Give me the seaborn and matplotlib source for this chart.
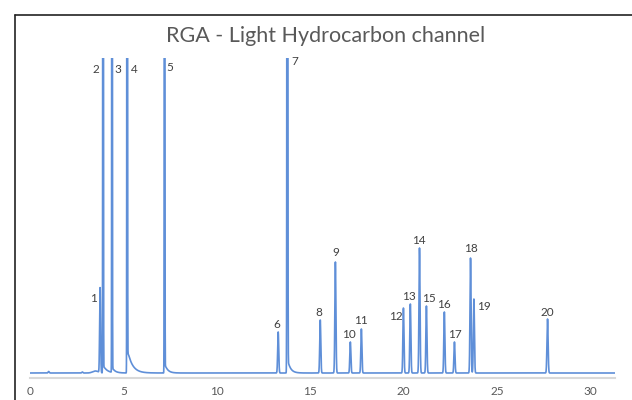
import numpy as np
import pandas as pd
import matplotlib
matplotlib.use("Agg")
import matplotlib.pyplot as plt
from matplotlib.lines import Line2D
import seaborn as sns

# peak table (retention time in min, height in signal units)
peak_labels = [str(i) for i in range(1, 21)]
peak_times = [3.75, 3.91, 4.39, 5.20, 7.20, 13.28, 13.77, 15.53, 16.34, 17.14,
              17.73, 19.98, 20.35, 20.84, 21.21, 22.17, 22.71, 23.57, 23.75, 27.69]
peak_heights = [85, 2000, 1500, 2500, 1800, 41, 2200, 53, 111, 31,
                44, 65, 69, 125, 67, 61, 31, 115, 74, 54]
peak_widths = [0.025, 0.012, 0.012, 0.012, 0.012, 0.028, 0.016, 0.028, 0.028, 0.028,
               0.028, 0.028, 0.028, 0.028, 0.028, 0.028, 0.028, 0.028, 0.028, 0.03]
tail_heights = [0, 8, 5, 25, 10, 0, 15, 0, 0, 0, 0, 0, 0, 0, 0, 0, 0, 0, 0, 0]
tail_lengths = [0.1, 0.2, 0.15, 0.25, 0.15, 0.1, 0.15, 0.1, 0.1, 0.1,
                0.1, 0.1, 0.1, 0.1, 0.1, 0.1, 0.1, 0.1, 0.1, 0.1]

# small baseline disturbances
bump_times = [1.0, 2.8, 3.5]
bump_heights = [1.5, 1.0, 2.0]
bump_widths = [0.03, 0.03, 0.15]

# label offsets from the apex (pixels)
label_dx = [-7, -7, 6, 7, 5, -1, 7, -1, 0, -1, 0, -8, -1, -1, 3, 0, 0, 0, 10, 0]
label_dy = [-10, -12, -12, -12, -10, 7, -4, 8, 9, 8, 8, -9, 7, 7, 8, 8, 7, 9, -8, 6]

y_top = 315
t = np.linspace(0, 31.3, 12000)
signal = np.zeros_like(t)
for tr, h, w, a, tau in zip(peak_times, peak_heights, peak_widths, tail_heights, tail_lengths):
    signal += h * np.exp(-0.5 * ((t - tr) / w) ** 2)
    d = np.clip(t - tr, 0, None)
    signal += np.where(t > tr, a * np.exp(-d / tau) * (1 - np.exp(-d / 0.02)), 0)
for tb, hb, wb in zip(bump_times, bump_heights, bump_widths):
    signal += hb * np.exp(-0.5 * ((t - tb) / wb) ** 2)

df = pd.DataFrame({"time": t, "signal": signal})

sns.set_style("white")
plt.rcParams['font.family'] = ['Lato', 'DejaVu Sans']

fig = plt.figure(figsize=(6.32, 4.0), dpi=100)
ax = fig.add_axes([30 / 632, 22 / 400, 585 / 632, 320 / 400])
sns.lineplot(data=df, x="time", y="signal", ax=ax, color="#5f8fd8",
             linewidth=1.2, estimator=None)

ax.set_xlim(0, 31.3)
ax.set_ylim(-5, y_top)
ax.set_xticks([0, 5, 10, 15, 20, 25, 30])
ax.set_yticks([])
ax.set_xlabel("")
ax.set_ylabel("")
for side in ["left", "right", "top"]:
    ax.spines[side].set_visible(False)
ax.spines["bottom"].set_color("#d9d9d9")
ax.spines["bottom"].set_linewidth(1.5)
ax.tick_params(axis="x", length=0, pad=6, labelsize=8.5, labelcolor="#595959")

for lab, tr, h, dx, dy in zip(peak_labels, peak_times, peak_heights, label_dx, label_dy):
    ax.annotate(lab, xy=(tr, min(h, y_top)), xytext=(dx, dy), textcoords="offset pixels",
                ha="center", va="center", fontsize=8.5, color="#404040",
                annotation_clip=False)

fig.text(326 / 632, 1 - 36 / 400, "RGA - Light Hydrocarbon channel",
         ha="center", va="center", fontsize=15.5, color="#595959")

# frame of the original screenshot (top and left edges)
fig.add_artist(Line2D([15 / 632, 1], [1 - 15 / 400] * 2, transform=fig.transFigure,
                      color="#222222", linewidth=1.2))
fig.add_artist(Line2D([15 / 632] * 2, [0, 1 - 15 / 400], transform=fig.transFigure,
                      color="#222222", linewidth=1.2))

fig.savefig("out.png", dpi=100)
